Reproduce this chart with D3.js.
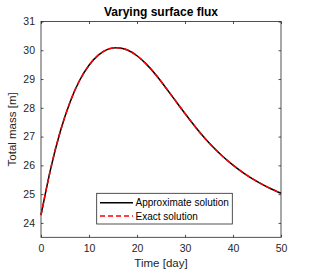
<!DOCTYPE html>
<html><head><meta charset="utf-8">
<script src="https://cdn.jsdelivr.net/npm/d3@7"></script>
<style>
html,body{margin:0;padding:0;background:#fff;}
svg{display:block;font-family:"Liberation Sans",Arial,Helvetica,sans-serif;}
</style></head>
<body>
<svg id="c" width="311" height="273"></svg>
<script>
const times = [0,2,4,6,8,10,12,14,16,18,20,22,24,26,28,30,32,34,36,38,40,42,44,46,48,50];
const approx = [24.27,25.87,27.17,28.18,28.94,29.48,29.84,30.04,30.09,30.01,29.81,29.51,29.13,28.70,28.25,27.80,27.37,26.97,26.61,26.29,26.01,25.76,25.54,25.35,25.18,25.03];
const exact = [24.27,25.87,27.17,28.18,28.94,29.48,29.84,30.04,30.09,30.01,29.81,29.51,29.13,28.70,28.25,27.80,27.37,26.97,26.61,26.29,26.01,25.76,25.54,25.35,25.18,25.03];
const xTicks = [0,10,20,30,40,50];
const yTicks = [24,25,26,27,28,29,30,31];
const seriesNames = ["Approximate solution","Exact solution"];

const svg = d3.select("#c");
const L=41, R=281, T=21.5, B=237.3;
const x = d3.scaleLinear().domain([0,50]).range([L,R]);
const y = d3.scaleLinear().domain([23.5,31]).range([B,T]);
const axCol = "#262626";

svg.append("rect").attr("x",L).attr("y",T).attr("width",R-L).attr("height",B-T)
  .attr("fill","none").attr("stroke",axCol).attr("stroke-width",0.8);

const fmt = d3.format("d");
const gx = svg.append("g").attr("transform",`translate(0,${B})`)
  .call(d3.axisBottom(x).tickValues(xTicks).tickFormat(fmt).tickSizeInner(-2.5).tickSizeOuter(0).tickPadding(7));
const gxt = svg.append("g").attr("transform",`translate(0,${T})`)
  .call(d3.axisTop(x).tickValues(xTicks).tickFormat("").tickSizeInner(-2.5).tickSizeOuter(0));
const gy = svg.append("g").attr("transform",`translate(${L},0)`)
  .call(d3.axisLeft(y).tickValues(yTicks).tickFormat(fmt).tickSizeInner(-2.5).tickSizeOuter(0).tickPadding(6));
const gyr = svg.append("g").attr("transform",`translate(${R},0)`)
  .call(d3.axisRight(y).tickValues(yTicks).tickFormat("").tickSizeInner(-2.5).tickSizeOuter(0));
[gx,gxt,gy,gyr].forEach(g=>{
  g.select(".domain").remove();
  g.selectAll("line").attr("stroke",axCol).attr("stroke-width",0.8);
  g.selectAll("text").attr("fill",axCol).style("font-size","10.5px").style("font-family","Liberation Sans,Arial,sans-serif");
});

const line = d3.line().x((d,i)=>x(times[i])).y(d=>y(d)).curve(d3.curveNatural);
svg.append("path").datum(approx).attr("d",line).attr("fill","none").attr("stroke","#000").attr("stroke-width",1.5);
svg.append("path").datum(exact).attr("d",line).attr("fill","none").attr("stroke","#ff0000").attr("stroke-width",1.5).attr("stroke-dasharray","5,3");

svg.append("text").attr("x",(L+R)/2).attr("y",15.5).attr("text-anchor","middle")
  .style("font-size","12px").style("font-weight","bold").attr("fill","#000").text("Varying surface flux");
svg.append("text").attr("x",(L+R)/2).attr("y",267).attr("text-anchor","middle")
  .style("font-size","11.5px").attr("fill",axCol).text("Time [day]");
svg.append("text").attr("transform",`translate(16,${(T+B)/2}) rotate(-90)`).attr("text-anchor","middle")
  .style("font-size","11.5px").attr("fill",axCol).text("Total mass [m]");

const lg = svg.append("g");
lg.append("rect").attr("x",96.7).attr("y",193.3).attr("width",135.6).attr("height",30.7)
  .attr("fill","#fff").attr("stroke",axCol).attr("stroke-width",0.8);
const rowsY=[202.7,216];
const styles=[{c:"#000",d:null},{c:"#ff0000",d:"5,3"}];
seriesNames.forEach((n,i)=>{
  const l=lg.append("line").attr("x1",100).attr("x2",133).attr("y1",rowsY[i]).attr("y2",rowsY[i])
    .attr("stroke",styles[i].c).attr("stroke-width",1.5);
  if(styles[i].d) l.attr("stroke-dasharray",styles[i].d);
  lg.append("text").attr("x",135.5).attr("y",rowsY[i]).attr("dy","0.35em")
    .style("font-size","10px").attr("fill","#000").text(n);
});
</script>
</body></html>
